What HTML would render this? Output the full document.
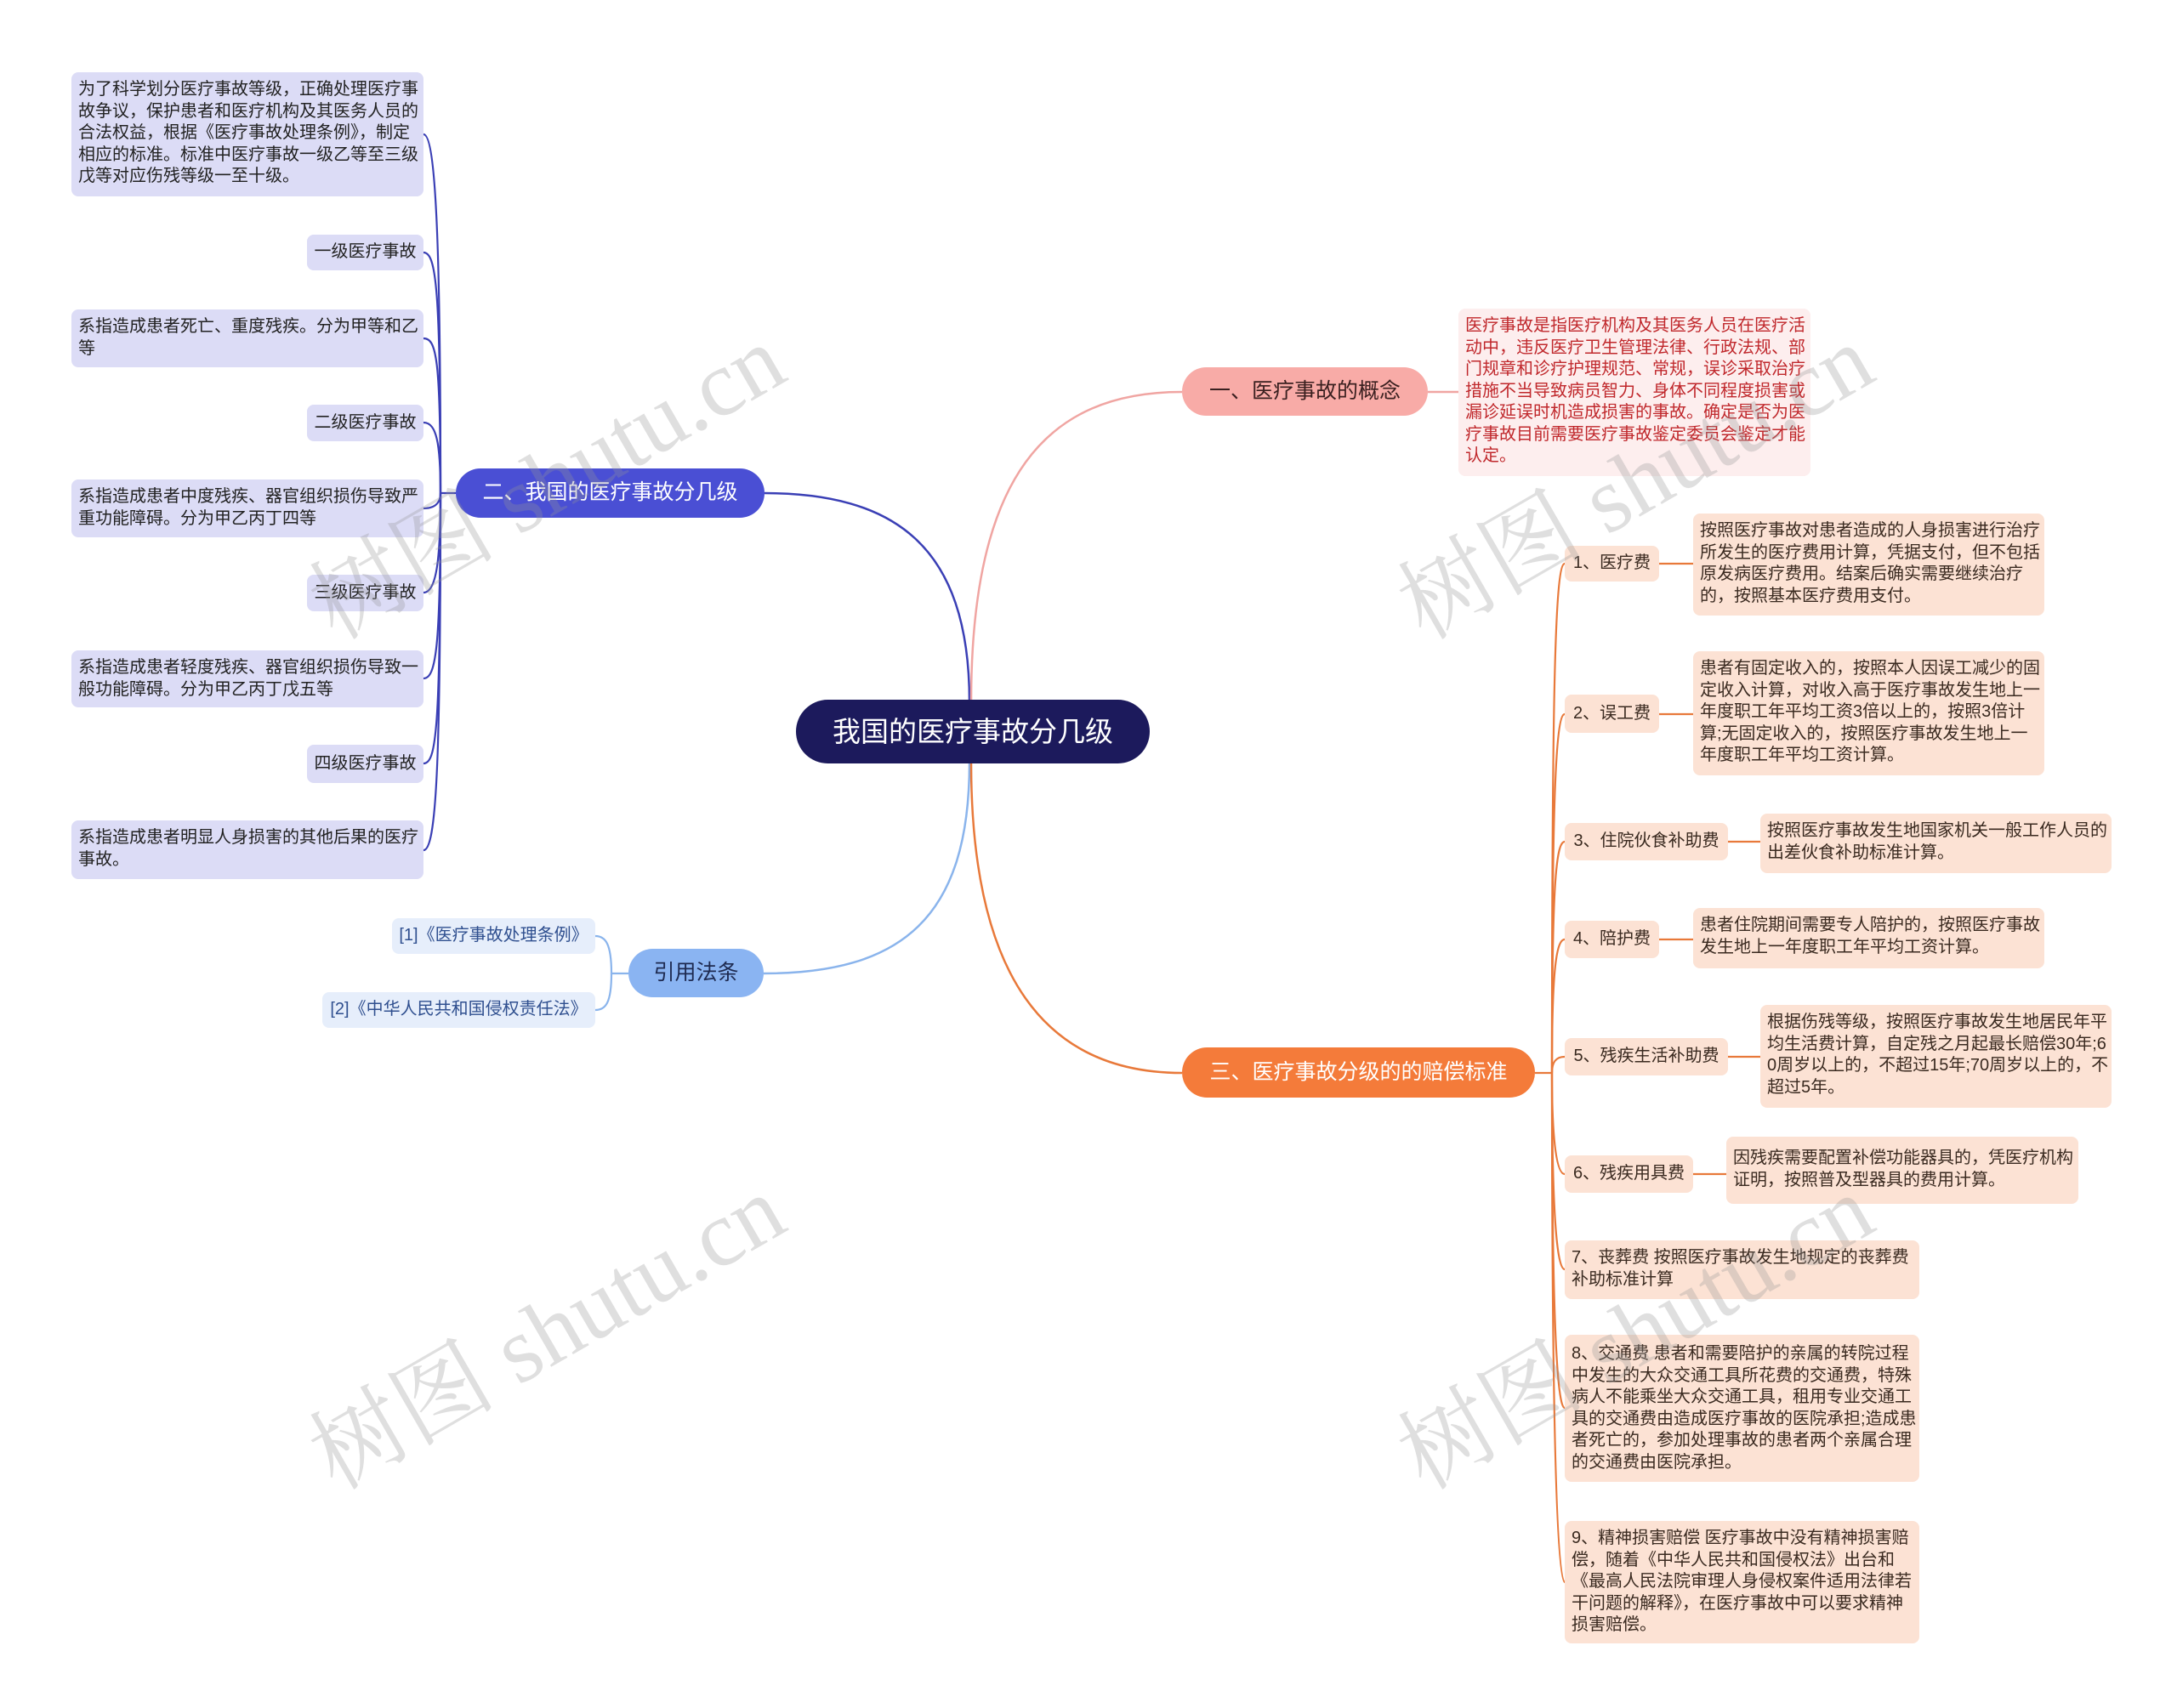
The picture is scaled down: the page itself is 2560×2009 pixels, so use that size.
<!DOCTYPE html>
<html><head><meta charset="utf-8"><style>
body{margin:0;width:2560px;height:2009px;background:#fff;position:relative;overflow:hidden;font-family:"Liberation Sans","Noto Sans CJK SC",sans-serif}
.n{position:absolute;box-sizing:border-box;border-radius:8px;font-size:20px;line-height:25.5px;padding:8px 3px 8px 8px;word-break:break-all}
.l{background:#dcdcf6;color:#222}
.o{background:#fce2d4;color:#3a2a20}
.c{display:flex;align-items:center;justify-content:center;white-space:nowrap;padding:0}
.wm{position:absolute;font-family:"Liberation Serif","Noto Serif CJK SC",serif;font-size:110px;color:rgba(150,150,150,0.3);transform:rotate(-30deg);white-space:nowrap}
</style></head><body>
<svg width="2560" height="2009" style="position:absolute;left:0;top:0" fill="none" stroke-width="2.5">
<path d="M1140 826 C1140 640 1050 580 898 580" stroke="#3a3fb5"/>
<path d="M1142 826 C1142 560 1230 461 1390 461" stroke="#f0a5a2"/>
<path d="M1140 897 C1140 1080 1060 1145 898 1145" stroke="#8ab4ec"/>
<path d="M1142 897 C1142 1150 1230 1262 1390 1262" stroke="#e8793a"/>
<path d="M1679 461 L1715 461" stroke="#f0a5a2"/>
<g stroke="#3a3fb5" stroke-width="2.2">
<path d="M536 580 L518 580"/>
<path d="M518 580 C518 300 513 158 498 158"/>
<path d="M518 580 C518 340 513 297 498 297"/>
<path d="M518 580 C518 420 513 398 498 398"/>
<path d="M518 580 C518 520 513 497 498 497"/>
<path d="M518 580 C518 590 513 598 498 598"/>
<path d="M518 580 C518 660 513 697 498 697"/>
<path d="M518 580 C518 760 513 798 498 798"/>
<path d="M518 580 C518 860 513 898 498 898"/>
<path d="M518 580 C518 900 513 1000 498 1000"/>
</g>
<g stroke="#8ab4ec" stroke-width="2.2">
<path d="M739 1145 L719 1145 C719 1110 712 1101 700 1101"/>
<path d="M719 1145 C719 1180 712 1188 700 1188"/>
</g>
<g stroke="#e8793a" stroke-width="2.2">
<path d="M1805 1262 L1825 1262"/>
<path d="M1825 1262 C1825 800 1829 663 1840 663"/>
<path d="M1825 1262 C1825 950 1829 840 1840 840"/>
<path d="M1825 1262 C1825 1050 1829 990 1840 990"/>
<path d="M1825 1262 C1825 1150 1829 1105 1840 1105"/>
<path d="M1825 1262 C1825 1250 1829 1243 1840 1243"/>
<path d="M1825 1262 C1825 1330 1829 1381 1840 1381"/>
<path d="M1825 1262 C1825 1400 1829 1493 1840 1493"/>
<path d="M1825 1262 C1825 1500 1829 1656 1840 1656"/>
<path d="M1825 1262 C1825 1600 1829 1861 1840 1861"/>
<path d="M1951 663 L1991 663 M1951 840 L1991 840 M2032 990 L2070 990 M1951 1105 L1991 1105 M2032 1243 L2070 1243 M1991 1381 L2030 1381"/>
</g>
</svg>

<div class="n c" style="left:936px;top:823px;width:416px;height:75px;border-radius:38px;background:#1c1a5c;color:#fff;font-size:33px">我国的医疗事故分几级</div>

<div class="n c" style="left:536px;top:551px;width:363px;height:58px;border-radius:29px;background:#4a4fd4;color:#fff;font-size:25px">二、我国的医疗事故分几级</div>
<div class="n l" style="left:84px;top:85px;width:414px;height:146px">为了科学划分医疗事故等级，正确处理医疗事故争议，保护患者和医疗机构及其医务人员的合法权益，根据《医疗事故处理条例》，制定相应的标准。标准中医疗事故一级乙等至三级戊等对应伤残等级一至十级。</div>
<div class="n l c" style="left:361px;top:276px;width:137px;height:42px">一级医疗事故</div>
<div class="n l" style="left:84px;top:364px;width:414px;height:68px">系指造成患者死亡、重度残疾。分为甲等和乙等</div>
<div class="n l c" style="left:361px;top:476px;width:137px;height:43px">二级医疗事故</div>
<div class="n l" style="left:84px;top:564px;width:414px;height:68px">系指造成患者中度残疾、器官组织损伤导致严重功能障碍。分为甲乙丙丁四等</div>
<div class="n l c" style="left:361px;top:676px;width:137px;height:43px">三级医疗事故</div>
<div class="n l" style="left:84px;top:765px;width:414px;height:67px">系指造成患者轻度残疾、器官组织损伤导致一般功能障碍。分为甲乙丙丁戊五等</div>
<div class="n l c" style="left:361px;top:876px;width:137px;height:45px">四级医疗事故</div>
<div class="n l" style="left:84px;top:965px;width:414px;height:69px">系指造成患者明显人身损害的其他后果的医疗事故。</div>

<div class="n c" style="left:739px;top:1116px;width:159px;height:57px;border-radius:29px;background:#8ab4f2;color:#1e2a50;font-size:25px">引用法条</div>
<div class="n c" style="left:461px;top:1080px;width:239px;height:42px;background:#e6eefb;color:#2f4f8f">[1]《医疗事故处理条例》</div>
<div class="n c" style="left:379px;top:1167px;width:321px;height:42px;background:#e6eefb;color:#2f4f8f">[2]《中华人民共和国侵权责任法》</div>

<div class="n c" style="left:1390px;top:432px;width:289px;height:57px;border-radius:29px;background:#f8aba7;color:#3a2020;font-size:25px">一、医疗事故的概念</div>
<div class="n" style="left:1715px;top:363px;width:414px;height:197px;background:#fdeeee;color:#c0282c">医疗事故是指医疗机构及其医务人员在医疗活动中，违反医疗卫生管理法律、行政法规、部门规章和诊疗护理规范、常规，误诊采取治疗措施不当导致病员智力、身体不同程度损害或漏诊延误时机造成损害的事故。确定是否为医疗事故目前需要医疗事故鉴定委员会鉴定才能认定。</div>

<div class="n c" style="left:1390px;top:1232px;width:415px;height:59px;border-radius:30px;background:#f47b3a;color:#fff;font-size:25px">三、医疗事故分级的的赔偿标准</div>
<div class="n o c" style="left:1840px;top:642px;width:111px;height:42px">1、医疗费</div>
<div class="n o" style="left:1991px;top:604px;width:413px;height:120px">按照医疗事故对患者造成的人身损害进行治疗所发生的医疗费用计算，凭据支付，但不包括原发病医疗费用。结案后确实需要继续治疗的，按照基本医疗费用支付。</div>
<div class="n o c" style="left:1840px;top:817px;width:111px;height:45px">2、误工费</div>
<div class="n o" style="left:1991px;top:766px;width:413px;height:146px">患者有固定收入的，按照本人因误工减少的固定收入计算，对收入高于医疗事故发生地上一年度职工年平均工资3倍以上的，按照3倍计算;无固定收入的，按照医疗事故发生地上一年度职工年平均工资计算。</div>
<div class="n o c" style="left:1840px;top:968px;width:192px;height:44px">3、住院伙食补助费</div>
<div class="n o" style="left:2070px;top:957px;width:413px;height:70px">按照医疗事故发生地国家机关一般工作人员的出差伙食补助标准计算。</div>
<div class="n o c" style="left:1840px;top:1083px;width:111px;height:44px">4、陪护费</div>
<div class="n o" style="left:1991px;top:1068px;width:413px;height:71px">患者住院期间需要专人陪护的，按照医疗事故发生地上一年度职工年平均工资计算。</div>
<div class="n o c" style="left:1840px;top:1221px;width:192px;height:44px">5、残疾生活补助费</div>
<div class="n o" style="left:2070px;top:1182px;width:413px;height:121px">根据伤残等级，按照医疗事故发生地居民年平均生活费计算，自定残之月起最长赔偿30年;60周岁以上的，不超过15年;70周岁以上的，不超过5年。</div>
<div class="n o c" style="left:1840px;top:1359px;width:151px;height:44px">6、残疾用具费</div>
<div class="n o" style="left:2030px;top:1337px;width:414px;height:79px;padding-top:13px">因残疾需要配置补偿功能器具的，凭医疗机构证明，按照普及型器具的费用计算。</div>
<div class="n o" style="left:1840px;top:1459px;width:417px;height:69px">7、丧葬费 按照医疗事故发生地规定的丧葬费补助标准计算</div>
<div class="n o" style="left:1840px;top:1570px;width:417px;height:173px;padding-top:10px">8、交通费 患者和需要陪护的亲属的转院过程中发生的大众交通工具所花费的交通费，特殊病人不能乘坐大众交通工具，租用专业交通工具的交通费由造成医疗事故的医院承担;造成患者死亡的，参加处理事故的患者两个亲属合理的交通费由医院承担。</div>
<div class="n o" style="left:1840px;top:1789px;width:417px;height:144px">9、精神损害赔偿 医疗事故中没有精神损害赔偿，随着《中华人民共和国侵权法》出台和《最高人民法院审理人身侵权案件适用法律若干问题的解释》，在医疗事故中可以要求精神损害赔偿。</div>

<div class="wm" style="left:330px;top:480px">树图 shutu.cn</div>
<div class="wm" style="left:1610px;top:480px">树图 shutu.cn</div>
<div class="wm" style="left:330px;top:1480px">树图 shutu.cn</div>
<div class="wm" style="left:1610px;top:1480px">树图 shutu.cn</div>
</body></html>
